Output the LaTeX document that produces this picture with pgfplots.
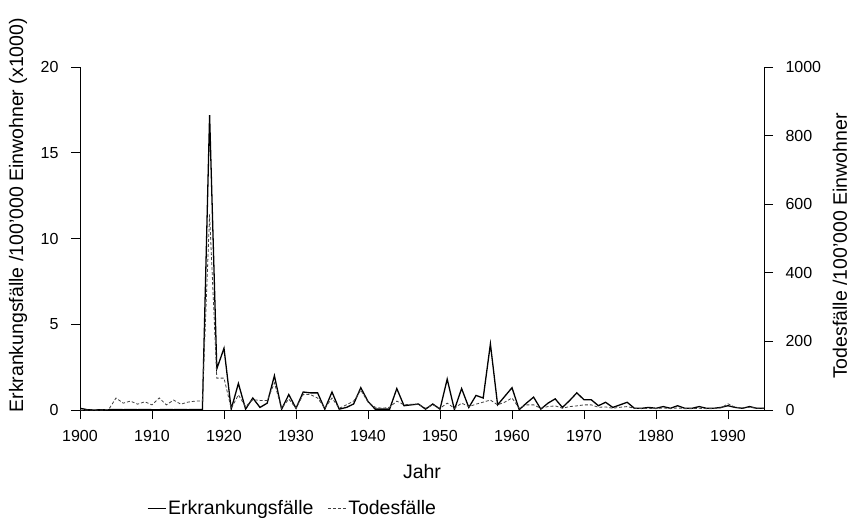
\documentclass[border=0pt]{standalone}
\usepackage{pgfplots}
\pgfplotsset{compat=1.18}
\usepackage{pgfplotstable}
\usepackage{fontspec}
\setmainfont{Liberation Sans}

\pgfplotstableread{
year E T
1900 0.10 0
1901 0.02 0
1902 0.00 0
1903 0.02 0
1904 0.02 2
1905 0.03 35
1906 0.02 20
1907 0.03 26
1908 0.02 17
1909 0.03 24
1910 0.02 15
1911 0.02 35
1912 0.03 15
1913 0.02 29
1914 0.03 17
1915 0.02 23
1916 0.03 26
1917 0.02 26
1918 17.2 570
1919 2.40 93
1920 3.60 93
1921 0.05 5
1922 1.55 44
1923 0.05 10
1924 0.70 30
1925 0.15 28
1926 0.40 28
1927 2.00 79
1928 0.05 5
1929 0.90 32
1930 0.10 5
1931 1.05 45
1932 1.00 45
1933 1.00 35
1934 0.05 5
1935 1.05 35
1936 0.05 5
1937 0.15 15
1938 0.35 26
1939 1.30 58
1940 0.50 23
1941 0.05 8
1942 0.05 5
1943 0.05 8
1944 1.25 26
1945 0.25 15
1946 0.30 17
1947 0.35 17
1948 0.05 5
1949 0.35 15
1950 0.05 5
1951 1.80 20
1952 0.02 5
1953 1.25 20
1954 0.15 10
1955 0.85 17
1956 0.70 23
1957 3.85 29
1958 0.30 15
1959 0.80 23
1960 1.30 35
1961 0.02 5
1962 0.40 15
1963 0.75 15
1964 0.05 5
1965 0.40 10
1966 0.65 12
1967 0.15 5
1968 0.55 10
1969 1.00 12
1970 0.60 15
1971 0.60 15
1972 0.25 8
1973 0.45 9
1974 0.15 5
1975 0.30 8
1976 0.45 10
1977 0.10 5
1978 0.10 4
1979 0.15 5
1980 0.10 4
1981 0.20 6
1982 0.10 4
1983 0.25 6
1984 0.10 4
1985 0.10 4
1986 0.20 5
1987 0.10 4
1988 0.10 4
1989 0.15 6
1990 0.25 18
1991 0.15 8
1992 0.10 6
1993 0.20 8
1994 0.10 5
1995 0.10 5
}\datatable

\newcommand{\tickfont}{\fontsize{16}{19}\selectfont}
\newcommand{\labfont}{\fontsize{19.5}{23}\selectfont}

\begin{document}
\begin{tikzpicture}
\begin{axis}[
  name=ax,
  scale only axis,
  width=684pt, height=343pt,
  xmin=1900, xmax=1995,
  ymin=0, ymax=20,
  axis x line*=bottom,
  axis y line*=left,
  axis line style={line width=0.8pt},
  xtick={1900,1910,...,1990},
  ytick={0,5,10,15,20},
  tick align=outside,
  major tick length=9pt,
  tick style={black, line width=0.8pt},
  /pgf/number format/assume math mode=true,
  xticklabel style={/pgf/number format/1000 sep={}, font=\tickfont, yshift=-8pt},
  yticklabel style={font=\tickfont, xshift=-9pt},
  xlabel={Jahr},
  xlabel style={font=\labfont, at={(axis description cs:0.5,-0.178)}, anchor=center},
  ylabel={Erkrankungsfälle /100'000 Einwohner (x1000)},
  ylabel style={font=\labfont, at={(axis description cs:-0.0906,0.568)}, anchor=center},
]
\addplot[black, line width=1.3pt] table[x=year, y=E] {\datatable};
\end{axis}
\begin{axis}[
  scale only axis,
  width=684pt, height=343pt,
  xmin=1900, xmax=1995,
  ymin=0, ymax=1000,
  axis x line=none,
  axis y line*=right,
  axis line style={line width=0.8pt},
  ytick={0,200,...,1000},
  tick align=outside,
  major tick length=9pt,
  tick style={black, line width=0.8pt},
  /pgf/number format/assume math mode=true,
  yticklabel style={font=\tickfont, /pgf/number format/1000 sep={}, xshift=9pt},
  ylabel={Todesfälle /100'000 Einwohner},
  ylabel style={font=\labfont, at={(axis description cs:1.111,0.478)}, anchor=center},
  legend style={draw=none, fill=none, font=\labfont, at={(axis description cs:0.098,-0.286)}, anchor=west, legend columns=2, /tikz/every even column/.append style={column sep=12pt}, inner sep=0pt},
  legend cell align=left,
  legend image code/.code={\draw[#1] (0pt,0pt) -- (18pt,0pt);},
]
\addlegendimage{black, line width=1.0pt}
\addlegendentry{Erkrankungsfälle}
\addplot[black!75, line width=0.8pt, dash pattern=on 3pt off 2pt] table[x=year, y=T] {\datatable};
\addlegendentry{Todesfälle}
\end{axis}
\path ([xshift=-80pt,yshift=-110pt]ax.south west) rectangle ([xshift=93pt,yshift=67pt]ax.north east);
\end{tikzpicture}
\end{document}
